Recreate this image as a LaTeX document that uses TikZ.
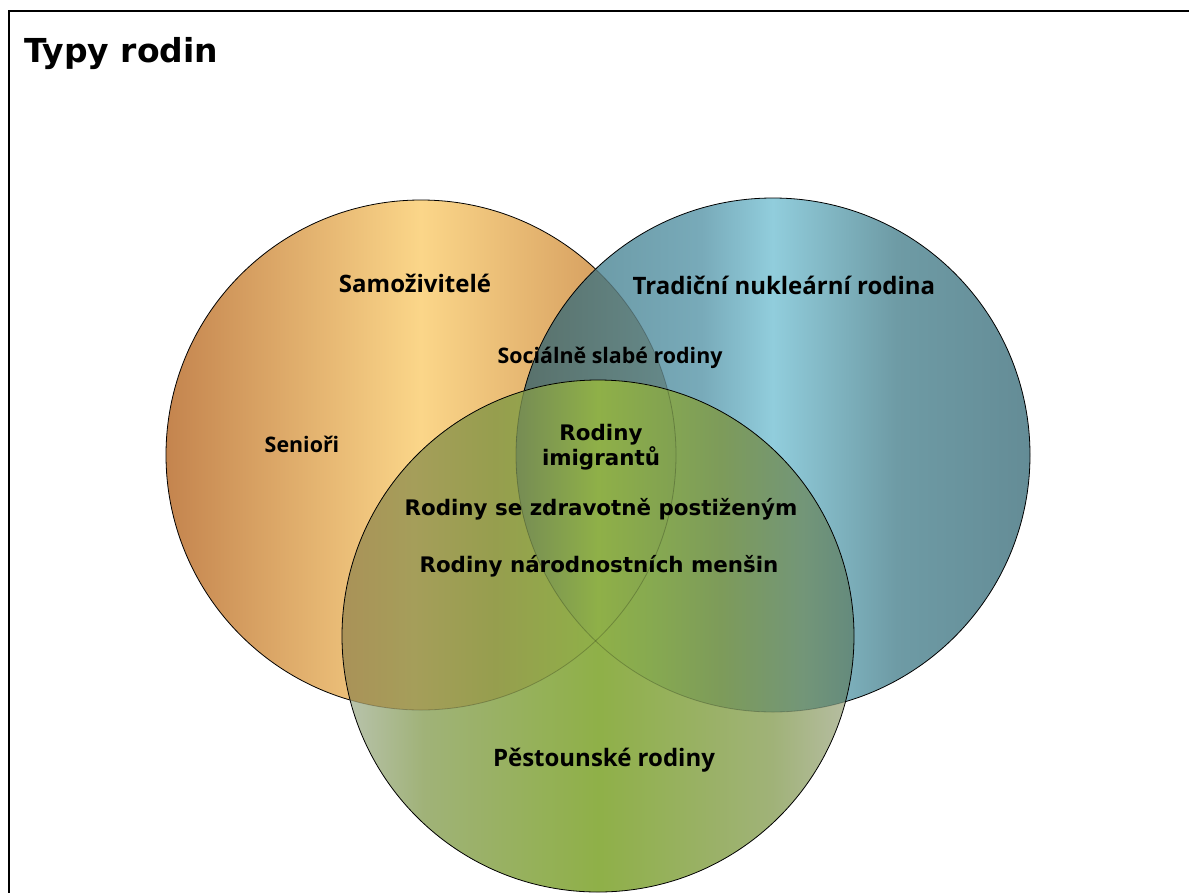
\documentclass[tikz,border=0pt]{standalone}
\usepackage{fontspec}
\setmainfont{DejaVu Sans}
\newfontfamily\segoe{Open Sans}

% barvy kruhu
\definecolor{oE1}{RGB}{196,132,78}
\definecolor{oM}{RGB}{251,214,137}
\definecolor{oE2}{RGB}{200,138,80}
\definecolor{bE1}{RGB}{100,145,155}
\definecolor{bQ1}{RGB}{120,170,185}
\definecolor{bM}{RGB}{145,205,220}
\definecolor{bQ2}{RGB}{110,155,165}
\definecolor{bE2}{RGB}{100,140,150}
\definecolor{obE}{RGB}{88,112,106}
\definecolor{obQ}{RGB}{100,135,135}
\definecolor{obM}{RGB}{112,158,165}
\definecolor{gE1}{RGB}{186,196,176}
\definecolor{gQ}{RGB}{160,178,120}
\definecolor{gM}{RGB}{143,176,72}
\definecolor{gE2}{RGB}{184,190,165}
\definecolor{goE}{RGB}{170,146,88}
\definecolor{goQ1}{RGB}{165,158,90}
\definecolor{goQ2}{RGB}{150,158,78}
\definecolor{gbQ1}{RGB}{135,165,78}
\definecolor{gbQ2}{RGB}{135,170,80}
\definecolor{gbQ3}{RGB}{125,155,90}
\definecolor{gbQ4}{RGB}{115,150,120}
\definecolor{gbE}{RGB}{100,138,125}
\definecolor{tE}{RGB}{118,140,84}
\definecolor{tQ}{RGB}{128,160,82}

\pgfdeclarehorizontalshading{oranzStin}{100bp}{color(0bp)=(oE1); color(25bp)=(oE1); color(50bp)=(oM); color(75bp)=(oE2); color(100bp)=(oE2)}
\pgfdeclarehorizontalshading{modraStin}{100bp}{color(0bp)=(bE1); color(25bp)=(bE1); color(43bp)=(bQ1); color(50bp)=(bM); color(62bp)=(bQ2); color(75bp)=(bE2); color(100bp)=(bE2)}
\pgfdeclarehorizontalshading{modraOranzStin}{100bp}{color(0bp)=(obE); color(25bp)=(obE); color(39bp)=(obQ); color(50bp)=(obM); color(62bp)=(bQ2); color(75bp)=(bE2); color(100bp)=(bE2)}
\pgfdeclarehorizontalshading{zelenaStin}{100bp}{color(0bp)=(gE1); color(25bp)=(gE1); color(33bp)=(gQ); color(50bp)=(gM); color(67bp)=(gQ); color(75bp)=(gE2); color(100bp)=(gE2)}
\pgfdeclarehorizontalshading{zelenaOranzStin}{100bp}{color(0bp)=(goE); color(25bp)=(goE); color(32bp)=(goQ1); color(40bp)=(goQ2); color(50bp)=(gM); color(100bp)=(gM)}
\pgfdeclarehorizontalshading{zelenaModraStin}{100bp}{color(0bp)=(gbQ1); color(42bp)=(gbQ1); color(50bp)=(gM); color(55bp)=(gbQ2); color(62bp)=(gbQ3); color(70bp)=(gbQ4); color(75bp)=(gbE); color(100bp)=(gbE)}
\pgfdeclarehorizontalshading{trojStin}{100bp}{color(0bp)=(tE); color(42bp)=(tE); color(50bp)=(gM); color(58bp)=(tQ); color(100bp)=(tQ)}

\tikzset{
  kruh/.style={line width=0.8pt},
  slaby/.style={line width=0.8pt, draw opacity=0.22},
  velky/.style={font=\segoe\bfseries\fontsize{24}{28}\selectfont, anchor=base, inner sep=0pt},
  maly/.style={font=\segoe\bfseries\fontsize{21.4}{25}\selectfont, anchor=base, inner sep=0pt},
  prunik/.style={font=\bfseries\fontsize{21.4}{25}\selectfont, anchor=base, inner sep=0pt, align=center}
}

\begin{document}
\begin{tikzpicture}[x=1pt, y=-1pt]

\useasboundingbox (0,0) rectangle (1189,892);
\clip (0,0) rectangle (1189,892);

\fill[white] (0,0) rectangle (1189,892);

\draw[line width=2pt] (8.5,11) rectangle (1200,900);

\node[anchor=base west, inner sep=0pt, font=\bfseries\fontsize{33}{40}\selectfont] (title) at (24,62) {Typy rodin};


% kruhy
\coordinate (cSamo) at (421,455);

\coordinate (cTrad) at (773,455);

\coordinate (cPest) at (598,636);

\shade[shading=oranzStin] (cSamo) circle (255);

\draw[kruh] (cSamo) circle (255);

\shade[shading=modraStin] (cTrad) circle (257);

\begin{scope}
\clip (cSamo) circle (255);
\shade[shading=modraOranzStin] (cTrad) circle (257);
\end{scope}

\begin{scope}
\clip (cTrad) circle (257);
\draw[slaby] (cSamo) circle (255);
\end{scope}

\draw[kruh] (cTrad) circle (257);

\shade[shading=zelenaStin] (cPest) circle (256);

\begin{scope}
\clip (cSamo) circle (255);
\shade[shading=zelenaOranzStin] (cPest) circle (256);
\end{scope}

\begin{scope}
\clip (cTrad) circle (257);
\shade[shading=zelenaModraStin] (cPest) circle (256);
\end{scope}

\begin{scope}
\clip (cSamo) circle (255);
\clip (cTrad) circle (257);
\shade[shading=trojStin] (cPest) circle (256);
\end{scope}

\begin{scope}
\clip (cPest) circle (256);
\draw[slaby] (cSamo) circle (255);
\draw[slaby] (cTrad) circle (257);
\end{scope}

\draw[kruh] (cPest) circle (256);


% popisky
\node[velky] (samo) at (415,292) {Samoživitelé};

\node[velky] (trad) at (784,294) {Tradiční nukleární rodina};

\node[maly] (socialne) at (610,363) {Sociálně slabé rodiny};

\node[maly] (seniori) at (302,452) {Senioři};

\node[prunik] (imigranti) at (601,465) {Rodiny\\imigrantů};

\node[prunik] (zdravotne) at (601,515) {Rodiny se zdravotně postiženým};

\node[prunik] (mensiny) at (599,572) {Rodiny národnostních menšin};

\node[velky] (pestouni) at (604,766) {Pěstounské rodiny};

\end{tikzpicture}
\end{document}
